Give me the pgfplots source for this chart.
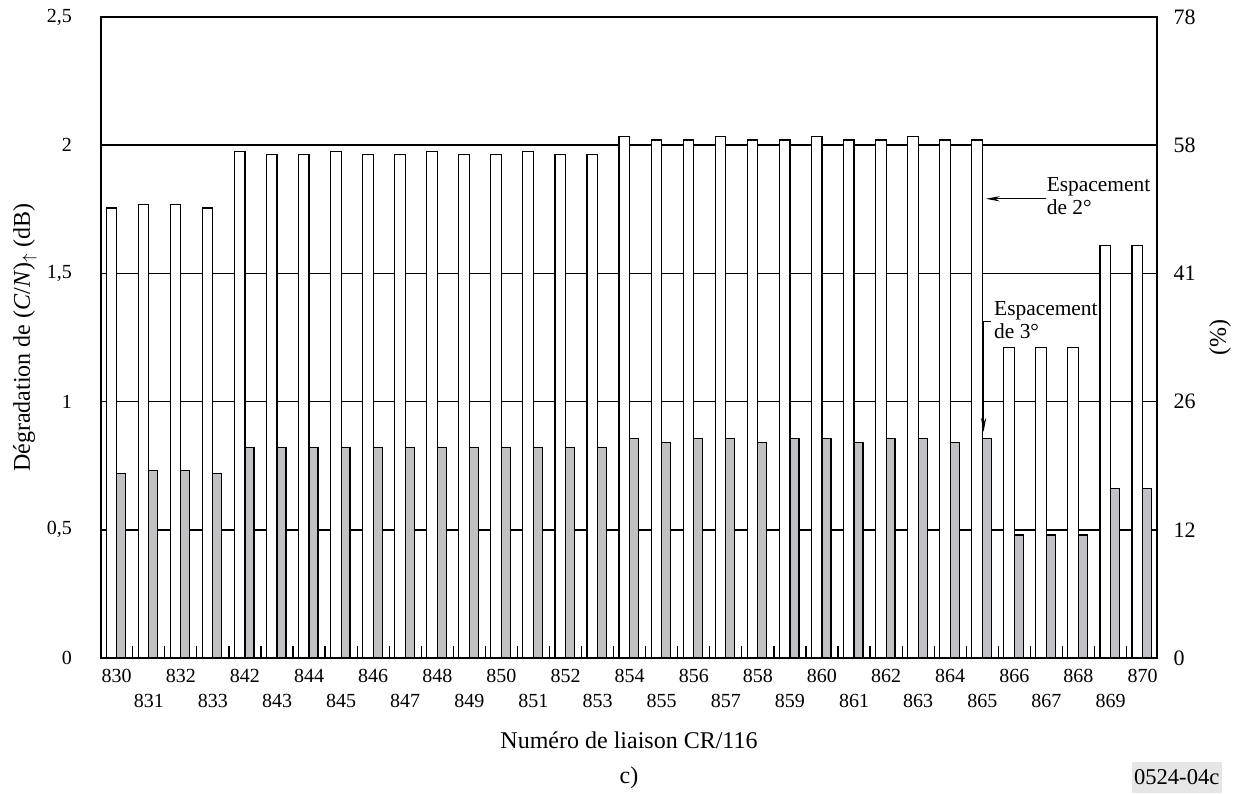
\documentclass[border=0pt]{standalone}
\usepackage{fontspec}
\setmainfont{Liberation Serif}
\usepackage{pgfplots}
\pgfplotsset{compat=1.18}
\usepackage{pgfplotstable}
\usetikzlibrary{arrows.meta,calc}
\definecolor{bargrey}{RGB}{192,193,197}
\definecolor{tagbg}{RGB}{230,230,230}

\pgfplotstableread{
x w g
0 1.755 0.72
1 1.77 0.73
2 1.77 0.73
3 1.755 0.72
4 1.975 0.82
5 1.965 0.82
6 1.965 0.82
7 1.975 0.82
8 1.965 0.82
9 1.965 0.82
10 1.975 0.82
11 1.965 0.82
12 1.965 0.82
13 1.975 0.82
14 1.965 0.82
15 1.965 0.82
16 2.035 0.855
17 2.02 0.84
18 2.02 0.855
19 2.035 0.855
20 2.02 0.84
21 2.02 0.855
22 2.035 0.855
23 2.02 0.84
24 2.02 0.855
25 2.035 0.855
26 2.02 0.84
27 2.02 0.855
28 1.21 0.48
29 1.21 0.48
30 1.21 0.48
31 1.61 0.66
32 1.61 0.66
}\data

\begin{document}
\begin{tikzpicture}
\begin{axis}[name=ax, scale only axis, width=528pt, height=320.5pt,
  xmin=-0.49, xmax=32.45, ymin=0, ymax=2.5,
  axis line style={line width=0.7pt},
  ytick={0,0.5,1,1.5,2,2.5}, yticklabels={0,{0,5},1,{1,5},2,{2,5}},
  ymajorgrids, grid style={black, line width=0.7pt},
  major tick length=0pt,
  xtick={0,2,...,32},
  xticklabels={830,832,842,844,846,848,850,852,854,856,858,860,862,864,866,868,870},
  extra x ticks={1,3,...,31},
  extra x tick labels={831,833,843,845,847,849,851,853,855,857,859,861,863,865,867,869},
  extra x tick style={xticklabel style={yshift=-12.5pt}},
  minor xtick={0.5,1.5,...,31.5}, minor tick length=6pt, tick align=inside,
  xtick pos=left, ytick pos=left,
  tick style={black, line width=0.6pt},
  ticklabel style={font=\fontsize{10}{11}\selectfont},
  yticklabel style={xshift=-11pt},
  xticklabel style={yshift=-2.2pt},
]
\addplot[ybar, bar width=0.33, bar shift=-0.165, fill=white, draw=black, line width=0.6pt] table[x=x,y=w]{\data};
\addplot[ybar, bar width=0.28, bar shift=0.14, fill=bargrey, draw=black, line width=0.6pt] table[x=x,y=g]{\data};
\draw[-{Stealth[length=7pt,width=2.6pt]}, line width=0.6pt] (axis cs:29.0,1.791) -- (axis cs:27.11,1.791);
\node[anchor=west, align=left, inner sep=0pt, font=\fontsize{10.7}{11.5}\selectfont] at (axis cs:29.0,1.803) {Espacement\\de 2°};
\draw[-{Stealth[length=7pt,width=2.6pt]}, line width=0.6pt] (axis cs:27.26,1.312) -- (axis cs:27.04,1.312) -- (axis cs:27.04,0.882);
\node[anchor=west, align=left, inner sep=0pt, font=\fontsize{10.7}{11.5}\selectfont] at (axis cs:27.36,1.316) {Espacement\\de 3°};
\end{axis}
\begin{axis}[scale only axis, width=528pt, height=320.5pt,
  xmin=-0.49, xmax=32.45, ymin=0, ymax=2.5,
  axis x line=none, axis y line*=right,
  axis line style={line width=0.7pt},
  ytick={0,0.5,1,1.5,2,2.5}, yticklabels={0,12,26,41,58,78},
  major tick length=0pt,
  ticklabel style={font=\fontsize{11}{12}\selectfont},
  yticklabel style={xshift=4.8pt},
]
\end{axis}
\node[rotate=90, font=\fontsize{12}{14}\selectfont] at ($(ax.west)+(-38pt,0)$) {Dégradation de (\textit{C}/\textit{N})\textsubscript{$\uparrow$} (dB)};
\node[rotate=90, font=\fontsize{12}{14}\selectfont] at ($(ax.east)+(31.5pt,0)$) {(\%)};
\node[font=\fontsize{12}{14}\selectfont] at ($(ax.south)+(0,-41pt)$) {Numéro de liaison CR/116};
\node[font=\fontsize{12}{14}\selectfont] at ($(ax.south)+(0,-60pt)$) {c)};
\node[fill=tagbg, minimum width=45pt, minimum height=15.5pt, inner sep=0pt, font=\fontsize{11.3}{13}\selectfont] at ($(ax.south east)+(9.85pt,-59.5pt)$) {0524-04c};
\pgfresetboundingbox
\path ($(ax.south west)+(-50.5pt,-67.5pt)$) rectangle ($(ax.north east)+(41.5pt,8.5pt)$);
\end{tikzpicture}
\end{document}
